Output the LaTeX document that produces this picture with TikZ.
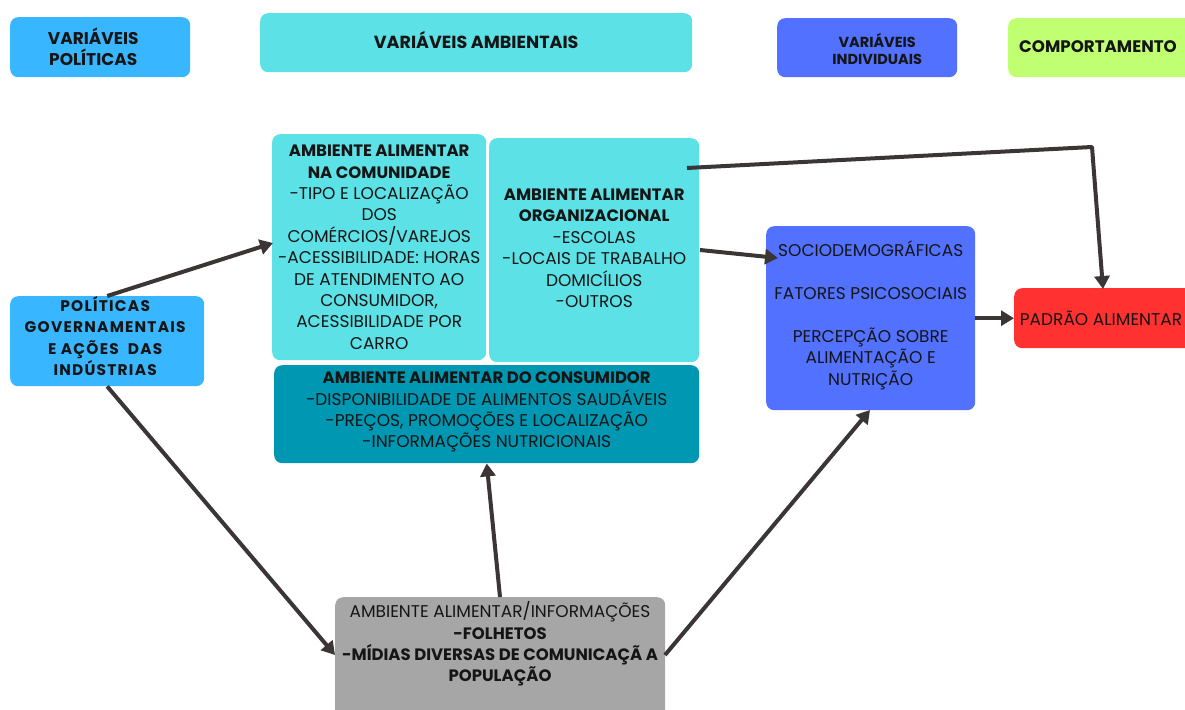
\documentclass[tikz,border=0pt]{standalone}
\usepackage{fontspec}
\setmainfont{Poppins}
\usetikzlibrary{arrows.meta,calc}
\definecolor{cpol}{HTML}{38B6FF}
\definecolor{camb}{HTML}{5CE1E6}
\definecolor{cind}{HTML}{5271FF}
\definecolor{ccomp}{HTML}{C1FF72}
\definecolor{ccons}{HTML}{0097B2}
\definecolor{cpad}{HTML}{FF3131}
\definecolor{cgray}{HTML}{A6A6A6}
\definecolor{carr}{HTML}{3B3535}
\definecolor{ctext}{HTML}{151515}
\newcommand{\hb}[1]{{\fontsize{16.5}{21.4}\selectfont\bfseries #1}}
\begin{document}
\begin{tikzpicture}[x=1pt,y=-1pt,
 box/.style={rounded corners=8pt, anchor=north west, inner sep=0pt},
 txt/.style={align=center, text=ctext, inner sep=0pt, font=\fontsize{17}{21.4}\selectfont},
 btxt/.style={txt, font=\fontsize{17.5}{21.4}\selectfont\bfseries},
 conn/.style={draw=carr, line width=4pt, line join=round, -{Triangle[length=13pt,width=15pt]}},
]
\useasboundingbox (0,0) rectangle (1185,709);

% header boxes
\node[box, fill=cpol, minimum width=180pt, minimum height=60pt] (vp) at (10,17) {};
\node[btxt, font=\fontsize{17}{21}\selectfont\bfseries] at ($(vp.center)+(-7,0)$) {VARIÁVEIS\\POLÍTICAS};
\node[box, fill=camb, minimum width=432pt, minimum height=59pt] (va) at (260,13) {};
\node[btxt] at ($(va.center)+(0,-3)$) {VARIÁVEIS AMBIENTAIS};
\node[box, fill=cind, minimum width=180pt, minimum height=59pt] (vi) at (777,18) {};
\node[btxt, font=\fontsize{14.5}{17}\selectfont\bfseries] at ($(vi.center)+(10,1)$) {VARIÁVEIS\\INDIVIDUAIS};
\node[box, fill=ccomp, minimum width=190pt, minimum height=59pt] (vc) at (1008,18) {};
\node[btxt, font=\fontsize{16.7}{21}\selectfont\bfseries] at (1098,47) {COMPORTAMENTO};

% environment boxes
\node[box, fill=camb, minimum width=214pt, minimum height=226pt] (com) at (272,134) {};
\node[txt] at (com.center) {\hb{AMBIENTE ALIMENTAR}\\\hb{NA COMUNIDADE}\\-TIPO E LOCALIZAÇÃO\\DOS\\COMÉRCIOS/VAREJOS\\-ACESSIBILIDADE: HORAS\\DE ATENDIMENTO AO\\CONSUMIDOR,\\ACESSIBILIDADE POR\\CARRO};
\node[box, fill=camb, minimum width=210pt, minimum height=224pt] (org) at (489,138) {};
\node[txt] at ($(org.center)+(0,-2)$) {\hb{AMBIENTE ALIMENTAR}\\\hb{ORGANIZACIONAL}\\-ESCOLAS\\-LOCAIS DE TRABALHO\\DOMICÍLIOS\\-OUTROS};
\node[box, fill=ccons, minimum width=425pt, minimum height=98pt] (cons) at (274,365) {};
\node[txt] at ($(cons.center)+(0,-2)$) {\hb{AMBIENTE ALIMENTAR DO CONSUMIDOR}\\-DISPONIBILIDADE DE ALIMENTOS SAUDÁVEIS\\-PREÇOS, PROMOÇÕES E LOCALIZAÇÃO\\-INFORMAÇÕES NUTRICIONAIS};

% policies
\node[box, fill=cpol, minimum width=194pt, minimum height=90pt] (pol) at (10,296) {};
\node[btxt, font=\fontsize{15.4}{21.4}\selectfont\bfseries] at ($(pol.center)+(-2,-5)$) {\addfontfeature{LetterSpace=8}POLÍTICAS\\\addfontfeature{LetterSpace=8}GOVERNAMENTAIS\\\addfontfeature{LetterSpace=8}E AÇÕES\ \ DAS\\\addfontfeature{LetterSpace=8}INDÚSTRIAS};

% individual
\node[box, fill=cind, minimum width=209pt, minimum height=184pt] (ind) at (766,226) {};
\node[txt] at ($(ind.center)+(0,-3)$) {SOCIODEMOGRÁFICAS\\[21.4pt]FATORES PSICOSOCIAIS\\[21.4pt]PERCEPÇÃO SOBRE\\ALIMENTAÇÃO E\\NUTRIÇÃO};

% behaviour
\node[box, fill=cpad, minimum width=190pt, minimum height=60pt] (pad) at (1014,288) {};
\node[txt] at (1101,318) {PADRÃO ALIMENTAR};

% bottom gray
\node[box, fill=cgray, minimum width=330pt, minimum height=130pt] (gr) at (335,597) {};
\node[txt] at (500,644) {AMBIENTE ALIMENTAR/INFORMAÇÕES\\\hb{-FOLHETOS}\\\hb{-MÍDIAS DIVERSAS DE COMUNICAÇÃ A}\\\hb{POPULAÇÃO}};

% connectors
\coordinate (gW) at (335,655);
\coordinate (gE) at (665,655);
\coordinate (gN) at (500,597);
\coordinate (comW) at (273,243);
\coordinate (indB) at (870,410);
\coordinate (orgE) at (700,250);
\coordinate (indL) at (778,258);
\coordinate (orgT) at (687,168);
\coordinate (bend) at (1092,147);
\coordinate (padT) at (1103,289);
\draw[conn] (pol.north) -- (comW);
\draw[conn] (pol.south) -- (gW);
\draw[conn] (gN) -- (cons.south);
\draw[conn] (gE) -- (indB);
\draw[conn] (orgE) -- (indL);
\draw[conn] (orgT) -- (bend) -- (padT);
\draw[conn] (ind.east) -- (ind.east -| pad.west);
\end{tikzpicture}
\end{document}
